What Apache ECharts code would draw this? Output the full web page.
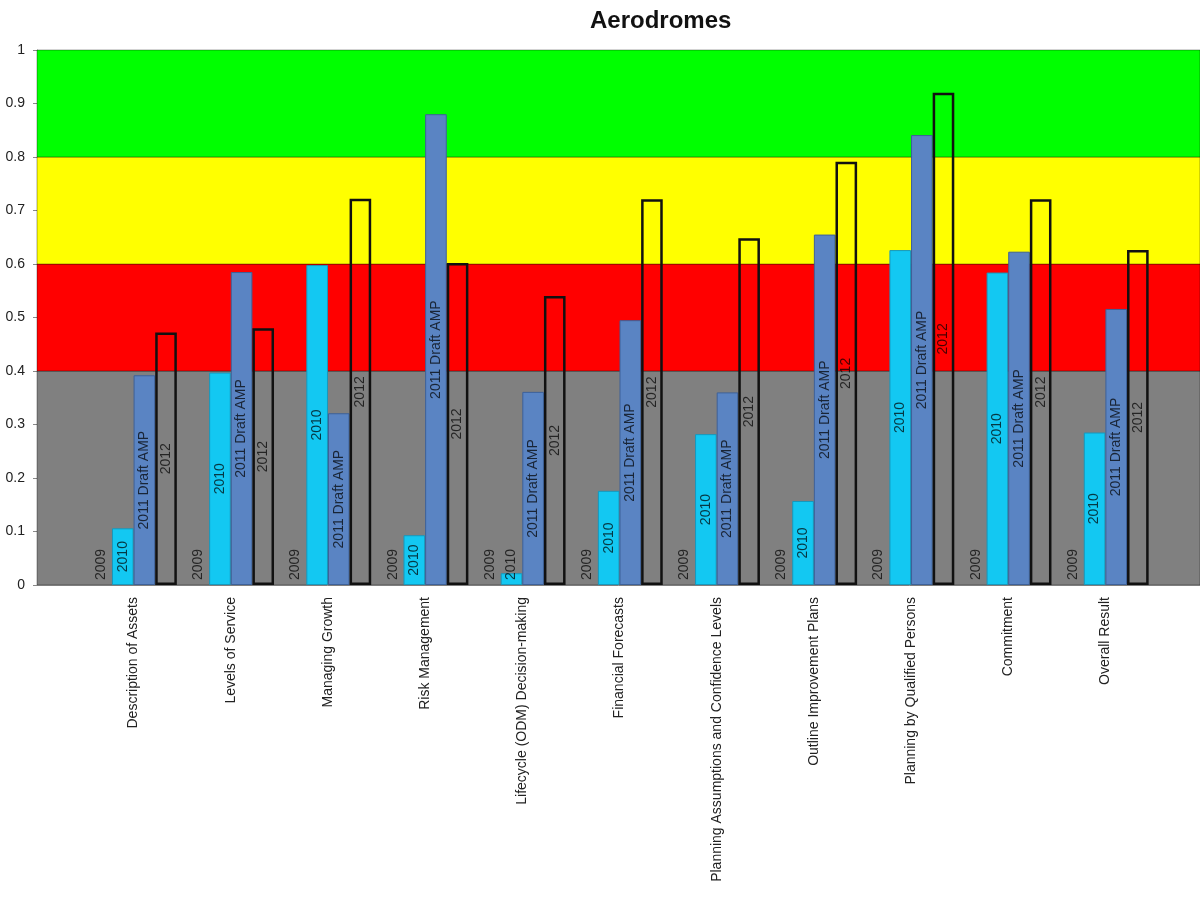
<!DOCTYPE html>
<html>
<head>
<meta charset="utf-8">
<script src="https://cdn.jsdelivr.net/npm/echarts@6/dist/echarts.min.js"></script>
<style>
html,body{margin:0;padding:0;background:#fff;}
#chart{width:1200px;height:898px;}
</style>
</head>
<body>
<div id="chart"></div>
<script>
const categories = [
  'Description of Assets',
  'Levels of Service',
  'Managing Growth',
  'Risk Management',
  'Lifecycle (ODM) Decision-making',
  'Financial Forecasts',
  'Planning Assumptions and Confidence Levels',
  'Outline Improvement Plans',
  'Planning by Qualified Persons',
  'Commitment',
  'Overall Result'
];
const seriesNames = ['2009', '2010', '2011 Draft AMP', '2012'];
const v2009 = [0, 0, 0, 0, 0, 0, 0, 0, 0, 0, 0];
const v2010 = [0.106, 0.397, 0.598, 0.093, 0.022, 0.176, 0.282, 0.157, 0.626, 0.584, 0.285];
const v2011 = [0.392, 0.585, 0.321, 0.880, 0.361, 0.495, 0.360, 0.655, 0.841, 0.623, 0.516];
const v2012 = [0.472, 0.480, 0.722, 0.602, 0.540, 0.721, 0.648, 0.791, 0.920, 0.721, 0.626];
const bandStops = [0, 0.4, 0.6, 0.8, 1];
const bandColors = ['#808080', '#ff0000', '#ffff00', '#00ff00'];
const yMin = 0, yMax = 1, yInterval = 0.1;

const chart = echarts.init(document.getElementById('chart'), null, {renderer: 'canvas'});

const bandData = [];
for (let i = 0; i < bandColors.length; i++) {
  bandData.push([
    {yAxis: bandStops[i], itemStyle: {color: bandColors[i], borderColor: 'rgba(0,0,0,0.35)', borderWidth: 1}},
    {yAxis: bandStops[i + 1]}
  ]);
}

const labelFont = {fontFamily: 'Liberation Sans, Arial, sans-serif', fontSize: 14, color: 'rgba(0,0,0,0.72)'};
const baseLabel = {position: 'insideBottom', distance: 5, align: 'left', verticalAlign: 'middle'};

// values too small to hold a centred label get it placed above the base, like the zero-value 2009 series
function withSmallLabels(values) {
  return values.map(v => v < 0.06 ? {value: v, label: baseLabel} : v);
}

function barSeries(name, data, itemStyle, label) {
  return {
    name: name,
    type: 'bar',
    xAxisIndex: 1,
    yAxisIndex: 1,
    data: withSmallLabels(data),
    barGap: '0%',
    barCategoryGap: '11%',
    itemStyle: itemStyle,
    label: Object.assign({show: true, formatter: '{a}', rotate: 90}, labelFont, label),
    emphasis: {disabled: true},
    silent: true,
    z: 3
  };
}

const option = {
  animation: false,
  backgroundColor: '#ffffff',
  title: {
    text: 'Aerodromes',
    left: 585,
    top: 4,
    textStyle: {fontFamily: 'Liberation Sans, Arial, sans-serif', fontSize: 24, fontWeight: 'bold', color: '#111'}
  },
  grid: [
    {left: 37, right: 0, top: 50, bottom: 313},
    {left: 85, right: 46, top: 50, bottom: 313}
  ],
  xAxis: [
    {
      gridIndex: 0, type: 'value', min: 0, max: 1,
      axisLine: {show: true, lineStyle: {color: '#999', width: 1}},
      axisTick: {show: false}, axisLabel: {show: false}, splitLine: {show: false}
    },
    {
      gridIndex: 1, type: 'category', data: categories,
      axisLine: {show: false}, axisTick: {show: false}, splitLine: {show: false},
      axisLabel: {
        interval: 0, rotate: 90, margin: 12,
        fontFamily: 'Liberation Sans, Arial, sans-serif', fontSize: 14, color: '#222'
      }
    }
  ],
  yAxis: [
    {
      gridIndex: 0, type: 'value', min: yMin, max: yMax, interval: yInterval,
      axisLine: {show: true, lineStyle: {color: '#999'}},
      axisTick: {show: true, length: 4, lineStyle: {color: '#888'}},
      axisLabel: {margin: 12, fontFamily: 'Liberation Sans, Arial, sans-serif', fontSize: 14, color: '#222'},
      splitLine: {show: false}
    },
    {
      gridIndex: 1, type: 'value', min: yMin, max: yMax, interval: yInterval, show: false,
      splitLine: {show: false}
    }
  ],
  series: [
    {
      type: 'line', xAxisIndex: 0, yAxisIndex: 0,
      data: [[0, 0], [1, 0]], symbol: 'none', lineStyle: {opacity: 0},
      silent: true, z: 1,
      markArea: {silent: true, data: bandData, label: {show: false}}
    },
    barSeries(seriesNames[0], v2009, {color: 'rgba(0,0,0,0)'}, baseLabel),
    barSeries(seriesNames[1], v2010, {color: '#13c8f2', borderColor: '#1698bd', borderWidth: 1},
      {position: 'inside'}),
    barSeries(seriesNames[2], v2011, {color: '#5a84c3', borderColor: '#3d6199', borderWidth: 1},
      {position: 'inside'}),
    barSeries(seriesNames[3], v2012, {color: 'rgba(0,0,0,0)', borderColor: '#111', borderWidth: 2.5},
      {position: 'inside'})
  ]
};
chart.setOption(option);
</script>
</body>
</html>
